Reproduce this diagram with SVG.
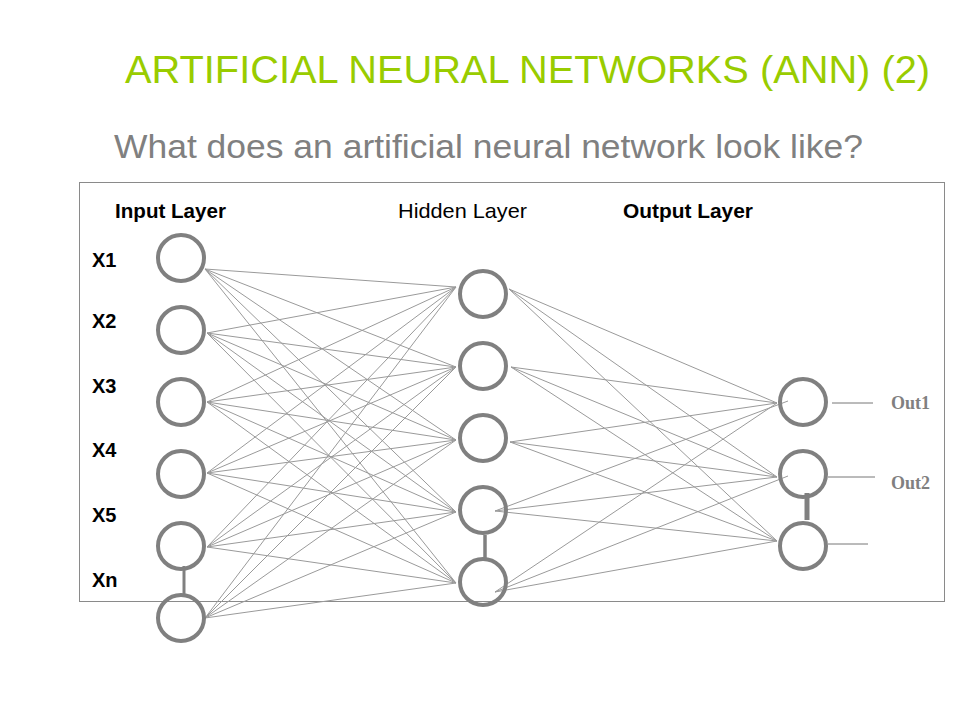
<svg xmlns="http://www.w3.org/2000/svg" width="960" height="720" viewBox="0 0 960 720">
<style>
.title{font-family:"Liberation Sans","DejaVu Sans",sans-serif;font-size:38px;fill:#99cc00}
.sub{font-family:"Liberation Sans","DejaVu Sans",sans-serif;font-size:33px;fill:#808080}
.lab{font-family:"Liberation Sans",Arial,sans-serif;font-size:21px;fill:#000}
.x{font-family:"Liberation Sans",Arial,sans-serif;font-size:20px;font-weight:bold;fill:#000}
.out{font-family:"Liberation Serif","Times New Roman",serif;font-size:18px;font-weight:bold;fill:#808080}
.node{fill:none;stroke:#808080;stroke-width:4}
.edge{stroke:#9a9a9a;stroke-width:1;fill:none}
.bar{stroke:#808080;fill:none}
</style>
<rect width="960" height="720" fill="#fff"/>
<text class="title" x="125" y="83" textLength="805" lengthAdjust="spacingAndGlyphs">ARTIFICIAL NEURAL NETWORKS (ANN) (2)</text>
<text class="sub" x="114" y="158" textLength="749" lengthAdjust="spacingAndGlyphs">What does an artificial neural network look like?</text>
<rect x="79.5" y="182.5" width="865" height="419" fill="none" stroke="#8a8a8a" stroke-width="1"/>
<text class="lab" x="115" y="218" font-weight="bold" textLength="111" lengthAdjust="spacingAndGlyphs">Input Layer</text>
<text class="lab" x="398" y="218" textLength="129" lengthAdjust="spacingAndGlyphs">Hidden Layer</text>
<text class="lab" x="623" y="218" font-weight="bold" textLength="130" lengthAdjust="spacingAndGlyphs">Output Layer</text>
<text class="x" x="92" y="267">X1</text>
<text class="x" x="92" y="328">X2</text>
<text class="x" x="92" y="393">X3</text>
<text class="x" x="92" y="457">X4</text>
<text class="x" x="92" y="522">X5</text>
<text class="x" x="92" y="587">Xn</text>
<g id="connectors">
<g id="input-hidden">
<path class="edge" d="M205 269L456 287M205 269L456 367M205 269L456 440M205 269L456 512M205 269L456 583"/>
<path class="edge" d="M207 333L456 287M207 333L456 367M207 333L456 440M207 333L456 512M207 333L456 583"/>
<path class="edge" d="M207 402L456 287M207 402L456 367M207 402L456 440M207 402L456 512M207 402L456 583"/>
<path class="edge" d="M207 473L456 287M207 473L456 367M207 473L456 440M207 473L456 512M207 473L456 583"/>
<path class="edge" d="M207 547L456 287M207 547L456 367M207 547L456 440M207 547L456 512M207 547L456 583"/>
<path class="edge" d="M205 618L456 287M205 618L456 367M205 618L456 440M205 618L456 512M205 618L456 583"/>
</g>
<g id="hidden-output">
<path class="edge" d="M509 289L777 403M509 289L777 477M509 289L777 541"/>
<path class="edge" d="M511 367L777 403M511 367L777 477M511 367L777 541"/>
<path class="edge" d="M510 442L777 403M510 442L777 477M510 442L777 541"/>
<path class="edge" d="M495 511L788 401M495 511L777 477M495 511L777 541"/>
<path class="edge" d="M495 592L777 403M495 592L788 476M495 592L777 541"/>
</g>
<g id="outputs">
<path class="edge" stroke="#777" d="M832 403H873M828 477H875M828 544H868" style="stroke:#777"/>
</g>
<g id="links">
<path class="bar" stroke-width="3" d="M184 566V594"/>
<path class="bar" stroke-width="3.5" d="M485 535V558"/>
<path class="bar" stroke-width="5" d="M807 493V520"/>
</g>
</g>
<g id="input-1"><circle class="node" cx="181" cy="258" r="23"/></g>
<g id="input-2"><circle class="node" cx="181" cy="330" r="23"/></g>
<g id="input-3"><circle class="node" cx="181" cy="402" r="23"/></g>
<g id="input-4"><circle class="node" cx="181" cy="474" r="23"/></g>
<g id="input-5"><circle class="node" cx="181" cy="546" r="23"/></g>
<g id="input-n"><circle class="node" cx="181" cy="618" r="23"/></g>
<g id="hidden-1"><circle class="node" cx="483" cy="294" r="23"/></g>
<g id="hidden-2"><circle class="node" cx="483" cy="366" r="23"/></g>
<g id="hidden-3"><circle class="node" cx="483" cy="438" r="23"/></g>
<g id="hidden-4"><circle class="node" cx="483" cy="510" r="23"/></g>
<g id="hidden-5"><circle class="node" cx="483" cy="582" r="23"/></g>
<g id="output-1"><circle class="node" cx="803" cy="402" r="23"/></g>
<g id="output-2"><circle class="node" cx="803" cy="474" r="23"/></g>
<g id="output-3"><circle class="node" cx="803" cy="546" r="23"/></g>
<text class="out" x="891" y="409">Out1</text>
<text class="out" x="891" y="489">Out2</text>
</svg>
